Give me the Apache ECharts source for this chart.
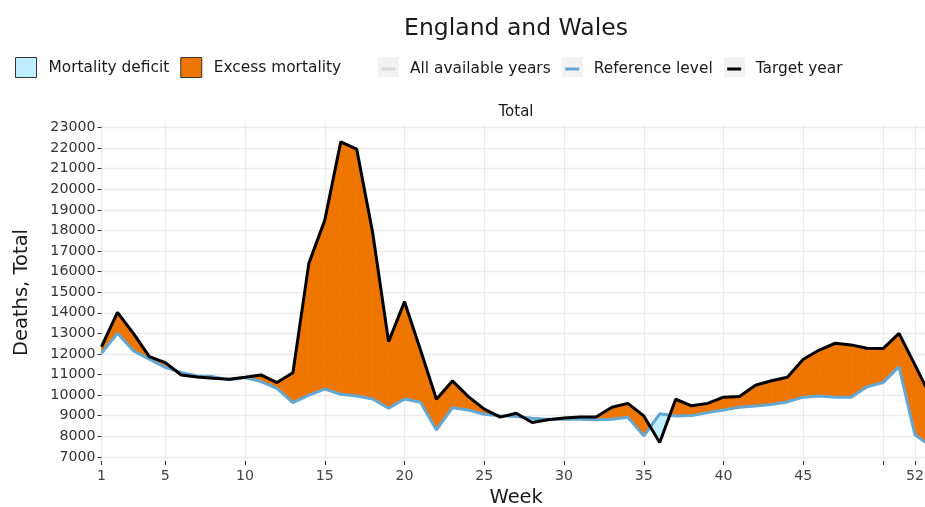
<!DOCTYPE html>
<html>
<head>
<meta charset="utf-8">
<script src="https://cdn.jsdelivr.net/npm/echarts@6/dist/echarts.min.js"></script>
<style>
  html, body { margin: 0; padding: 0; background: #fff; }
  #chart { width: 925px; height: 507px; }
</style>
</head>
<body>
<div id="chart"></div>
<script>
// weekly deaths, England and Wales
const weeks = [1,2,3,4,5,6,7,8,9,10,11,12,13,14,15,16,17,18,19,20,21,22,23,24,25,26,27,
  28,29,30,31,32,33,34,35,36,37,38,39,40,41,42,43,44,45,46,47,48,49,50,51,52,53];
const targetYear = [12350,14020,13000,11870,11580,10980,10880,10820,10770,10870,10980,10610,11090,
  16400,18500,22300,21950,17900,12600,14540,12190,9800,10690,9930,9320,8930,9120,8670,8800,8890,
  8940,8940,9410,9600,8990,7700,9800,9480,9600,9900,9930,10480,10700,10870,11740,12190,12520,
  12440,12280,12260,13000,11470,9900];
const referenceLevel = [12030,13000,12150,11750,11350,11100,10930,10900,10740,10850,10660,10330,9640,
  10000,10290,10040,9960,9815,9360,9815,9655,8310,9390,9280,9070,9000,8960,8880,8830,8830,
  8830,8800,8830,8925,8020,9090,8990,9005,9150,9280,9410,9475,9540,9670,9900,9960,9900,
  9900,10410,10610,11380,8070,7530];
const xTickWeeks = [1,5,10,15,20,25,30,35,40,45,50,52];
const xLabelWeeks = [1,5,10,15,20,25,30,35,40,45,52];
const yTicks = [7000,8000,9000,10000,11000,12000,13000,14000,15000,16000,17000,18000,19000,
  20000,21000,22000,23000];

const EXCESS = '#ee7600';
const DEFICIT = '#bfefff';
const REF_BLUE = '#64a7d2';
const FONT = 'DejaVu Sans';

const myChart = echarts.init(document.getElementById('chart'));

// fill between target and reference, orange above, light blue below
const renderGap = (params, api) => {
  const i = params.dataIndex;
  if (i >= weeks.length - 1) return;
  const t0 = api.coord([weeks[i], targetYear[i]]);
  const t1 = api.coord([weeks[i + 1], targetYear[i + 1]]);
  const r0 = api.coord([weeks[i], referenceLevel[i]]);
  const r1 = api.coord([weeks[i + 1], referenceLevel[i + 1]]);
  const d0 = targetYear[i] - referenceLevel[i];
  const d1 = targetYear[i + 1] - referenceLevel[i + 1];
  const poly = (pts, up) => ({
    type: 'polygon',
    shape: { points: pts },
    style: { fill: up ? EXCESS : DEFICIT, stroke: up ? EXCESS : DEFICIT, lineWidth: 0.8 }
  });
  const children = [];
  if (d0 >= 0 && d1 >= 0) children.push(poly([r0, t0, t1, r1], true));
  else if (d0 <= 0 && d1 <= 0) children.push(poly([r0, t0, t1, r1], false));
  else {
    const f = d0 / (d0 - d1);
    const c = [t0[0] + (t1[0] - t0[0]) * f, t0[1] + (t1[1] - t0[1]) * f];
    children.push(poly([r0, t0, c], d0 > 0), poly([c, t1, r1], d1 > 0));
  }
  return { type: 'group', children: children };
};

// grey key backgrounds of the line legend
const keyBoxes = [378, 562, 724].map(x => ({
  type: 'rect', left: x, top: 57, z: -1,
  shape: { width: 21, height: 20 },
  style: { fill: '#f2f2f2' }
}));

let option = {
  backgroundColor: '#fff',
  animation: false,
  textStyle: { fontFamily: FONT },
  title: [
    { text: 'England and Wales', left: 516, top: 17, textAlign: 'center', padding: 0,
      textStyle: { fontFamily: FONT, fontSize: 23.5, fontWeight: 'normal', color: '#1a1a1a' } },
    { text: 'Total', left: 516, top: 105, textAlign: 'center', padding: 0,
      textStyle: { fontFamily: FONT, fontSize: 15, fontWeight: 'normal', color: '#1a1a1a' } }
  ],
  graphic: keyBoxes,
  legend: [
    {
      left: 15, top: 57, padding: 0, itemWidth: 21, itemHeight: 20, itemGap: 11,
      textStyle: { fontFamily: FONT, fontSize: 15.4, color: '#1a1a1a', padding: [0, 0, 0, 7] },
      data: [
        { name: 'Mortality deficit', icon: 'rect',
          itemStyle: { color: DEFICIT, borderColor: '#333', borderWidth: 1 } },
        { name: 'Excess mortality', icon: 'rect',
          itemStyle: { color: EXCESS, borderColor: '#333', borderWidth: 1 } }
      ]
    },
    {
      left: 381.5, top: 61.5, padding: 0, itemWidth: 14, itemHeight: 3, itemGap: 14.5,
      textStyle: { fontFamily: FONT, fontSize: 15.4, color: '#1a1a1a', padding: [0, 0, 0, 9.5] },
      data: [
        { name: 'All available years', icon: 'rect', itemStyle: { color: '#d9d9d9' } },
        { name: 'Reference level', icon: 'rect', itemStyle: { color: REF_BLUE } },
        { name: 'Target year', icon: 'rect', itemStyle: { color: '#000' } }
      ]
    }
  ],
  grid: { left: 101.5, top: 124, width: 829.4, height: 337, outerBoundsMode: 'none' },
  xAxis: {
    type: 'value', min: 1, max: 53,
    name: 'Week', nameLocation: 'middle', nameGap: 27,
    nameTextStyle: { fontFamily: FONT, fontSize: 19.5, color: '#1a1a1a' },
    axisLine: { show: false },
    axisTick: { show: true, length: 4, lineStyle: { color: '#333' }, customValues: xTickWeeks },
    axisLabel: { fontSize: 14.2, color: '#444', margin: 8, customValues: xLabelWeeks },
    splitLine: { show: true, lineStyle: { color: '#ebebeb', width: 1.3 } }
  },
  yAxis: {
    type: 'value', min: 6800, max: 23170,
    name: 'Deaths, Total', nameLocation: 'middle', nameGap: 70,
    nameTextStyle: { fontFamily: FONT, fontSize: 19.5, color: '#1a1a1a' },
    axisLine: { show: false },
    axisTick: { show: true, length: 4, lineStyle: { color: '#333' }, customValues: yTicks },
    axisLabel: { fontSize: 14.2, color: '#333', margin: 6, customValues: yTicks,
      formatter: v => String(v) },
    splitLine: { show: true, lineStyle: { color: '#ebebeb', width: 1.3 } }
  },
  series: [
    { name: 'Mortality deficit', type: 'line', data: [] },
    { name: 'Excess mortality', type: 'line', data: [] },
    { name: 'All available years', type: 'line', data: [], lineStyle: { color: '#d9d9d9' } },
    {
      type: 'custom', clip: true, silent: true,
      renderItem: renderGap,
      data: weeks.map((w, i) => [w, targetYear[i]]),
      encode: { x: 0, y: 1 }
    },
    {
      name: 'Reference level', type: 'line', symbol: 'none', silent: true,
      lineStyle: { color: REF_BLUE, width: 3 },
      data: weeks.map((w, i) => [w, referenceLevel[i]])
    },
    {
      name: 'Target year', type: 'line', symbol: 'none', silent: true,
      lineStyle: { color: '#000', width: 3 },
      data: weeks.map((w, i) => [w, targetYear[i]])
    }
  ]
};
myChart.setOption(option);
</script>
</body>
</html>
